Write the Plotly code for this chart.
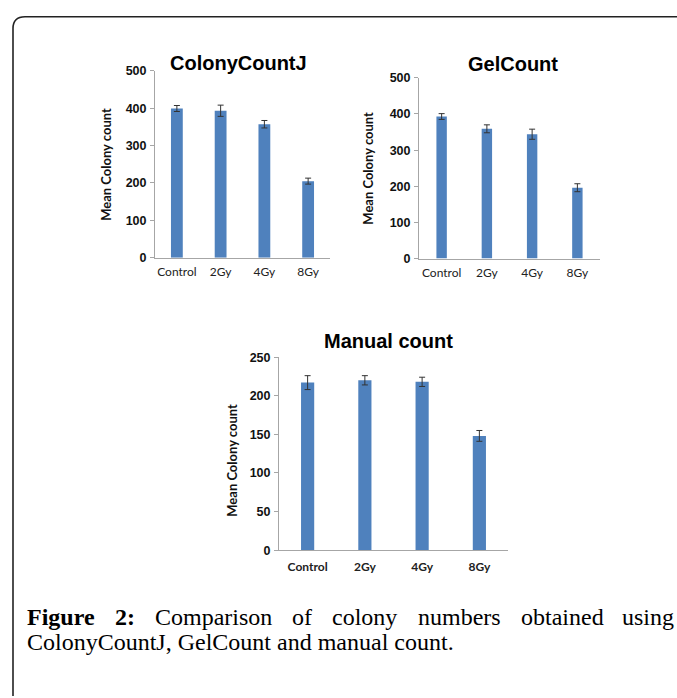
import plotly.graph_objects as go

W, H = 677, 698

categories = ["Control", "2Gy", "4Gy", "8Gy"]
ccj_values = [399, 393, 357, 205]
ccj_errors = [8, 15, 10, 8]
gel_values = [393, 359, 344, 196]
gel_errors = [8, 11, 14, 11]
man_values = [217, 220, 218, 148]
man_errors = [9, 6, 6, 7]

titles = ["ColonyCountJ", "GelCount", "Manual count"]
y_title = "Mean Colony count"

BAR = "#4F81BD"
AXIS = "#A6A6A6"


def px(x):
    return x / W


def py(y):
    return 1 - y / H


fig = go.Figure()

panels = [
    dict(vals=ccj_values, errs=ccj_errors, x0=155, x1=330, y0=65, y1=256, top=500, dt=100,
         width=0.27, bold_x=False, stand=3, title_xy=(238, 57), ytitle_xy=(106, 160)),
    dict(vals=gel_values, errs=gel_errors, x0=419, x1=600, y0=72.3, y1=256.7, top=500, dt=100,
         width=0.23, bold_x=False, stand=3, title_xy=(513, 58), ytitle_xy=(368, 165)),
    dict(vals=man_values, errs=man_errors, x0=279, x1=508, y0=357.3, y1=554.3, top=250, dt=50,
         width=0.23, bold_x=True, stand=5, title_xy=(388, 341), ytitle_xy=(232, 463)),
]

annotations = []
for i, p in enumerate(panels, start=1):
    xa = "x" if i == 1 else f"x{i}"
    ya = "y" if i == 1 else f"y{i}"
    fig.add_trace(go.Bar(
        x=categories, y=p["vals"], xaxis=xa, yaxis=ya, width=p["width"],
        marker=dict(color=BAR, line=dict(width=0)),
        error_y=dict(type="data", array=p["errs"], color="#333333", thickness=1, width=3),
        showlegend=False,
    ))
    xkey = "xaxis" if i == 1 else f"xaxis{i}"
    ykey = "yaxis" if i == 1 else f"yaxis{i}"
    fig.layout[xkey] = dict(
        domain=[px(p["x0"]), px(p["x1"])], anchor=ya, showgrid=False,
        showline=True, linecolor=AXIS, linewidth=1, ticks="", range=[-0.5, 3.5],
        ticklabelstandoff=p["stand"],
        tickfont=dict(family="Lato", size=12, color="#222222",
                      weight="bold" if p["bold_x"] else "normal"),
        fixedrange=True,
    )
    fig.layout[ykey] = dict(
        domain=[py(p["y1"]), py(p["y0"])], anchor=xa, range=[0, p["top"]], dtick=p["dt"],
        showgrid=False, zeroline=False, showline=True, linecolor=AXIS, linewidth=1,
        ticks="outside", ticklen=4, tickcolor=AXIS, ticklabelstandoff=1,
        tickfont=dict(family="Liberation Sans", size=12.5, color="#111111", weight="bold"),
        fixedrange=True,
    )
    tx, ty = p["title_xy"]
    annotations.append(dict(text=titles[i - 1], x=px(tx), y=py(ty), xref="paper", yref="paper",
                            showarrow=False, xanchor="center", yanchor="middle",
                            font=dict(family="Liberation Sans", size=20, color="#000000", weight="bold")))
    yx, yy = p["ytitle_xy"]
    annotations.append(dict(text=y_title, x=px(yx), y=py(yy), xref="paper", yref="paper",
                            showarrow=False, xanchor="center", yanchor="middle", textangle=-90,
                            font=dict(family="Lato", size=13, color="#111111", weight="bold")))

# caption, justified first line
cap_font = dict(family="Liberation Serif", size=24, color="#000000")
line1 = [("<b>Figure</b>", 25), ("<b>2:</b>", 112.5), ("Comparison", 152.5), ("of", 290),
         ("colony", 330), ("numbers", 415.5), ("obtained", 519)]
for w, x in line1:
    annotations.append(dict(text=w, x=px(x), y=py(622), xref="paper", yref="paper", showarrow=False,
                            xanchor="left", yanchor="middle", font=cap_font))
annotations.append(dict(text="using", x=px(676), y=py(622), xref="paper", yref="paper",
                        showarrow=False, xanchor="right", yanchor="middle", font=cap_font))
annotations.append(dict(text="ColonyCountJ, GelCount and manual count.", x=px(25), y=py(648),
                        xref="paper", yref="paper", showarrow=False, xanchor="left",
                        yanchor="middle", font=cap_font))

# rounded frame (top-left corner)
r = 12
path = (f"M {px(13)} {py(H + 5)} L {px(13)} {py(10 + r)} "
        f"Q {px(13)} {py(10)} {px(13 + r)} {py(10)} L {px(W + 5)} {py(10)}")
shapes = [dict(type="path", path=path, xref="paper", yref="paper",
               line=dict(color="#222222", width=1.6))]

fig.update_layout(
    width=W, height=H, margin=dict(l=0, r=0, t=0, b=0),
    paper_bgcolor="white", plot_bgcolor="white",
    annotations=annotations, shapes=shapes, bargap=0.7,
)

fig.write_html("out.html", config={"displayModeBar": False},
               post_script="document.body.style.margin='0';document.body.style.overflow='hidden';")
